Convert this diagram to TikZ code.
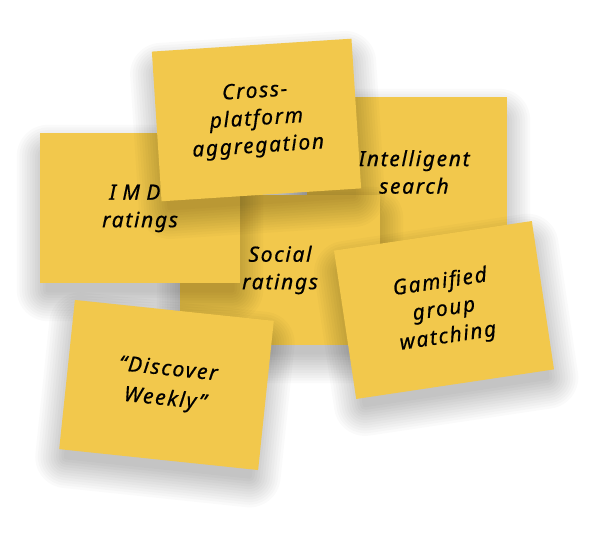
\documentclass[tikz,border=0pt]{standalone}
\usepackage{fontspec}
\setmainfont{Noto Sans}[LetterSpace=8, FakeBold=0.6]
\definecolor{notey}{RGB}{242,200,76}
\tikzset{
  stickynote/.style={fill=notey, minimum width=200pt, minimum height=150pt,
    inner sep=0pt, align=center, text=black,
    font=\fontsize{21}{27.5}\selectfont\itshape},
}
\newcommand\notesh[3]{%
  \begin{scope}[shift={(#1,#2)}, rotate=#3]
    \foreach \i [evaluate=\i as \r using \i*2.6] in {1,...,12}
      \fill[black, opacity=0.021, rounded corners=\r pt] (-92-\r,-82-\r) rectangle (92+\r,52+\r);
  \end{scope}}
\begin{document}
\begin{tikzpicture}[x=1pt,y=1pt]
\fill[white] (0,0) rectangle (596,537);
\useasboundingbox (0,0) rectangle (596,537);
\notesh{407}{365}{0}
\node[stickynote] (intel) at (407,365) {\hspace*{14pt}Intelligent\\\hspace*{14pt}search};
\notesh{280}{267}{0}
\node[stickynote] (social) at (280,267) {Social\\ratings};
\notesh{140}{329}{0}
\node[stickynote] (imdb) at (140,329) {\hspace*{8pt}{\addfontfeature{LetterSpace=30}IMDb}\\ratings};
\notesh{256.5}{417}{3.7}
\node[stickynote, rotate=3.7] (cross) at (256.5,417) {Cross-\\platform\\aggregation};
\notesh{444}{227}{8.5}
\node[stickynote, rotate=8.5] (gamified) at (444,227) {Gamified\\group\\watching};
\notesh{166.5}{152}{-6}
\node[stickynote, rotate=-6, font=\fontsize{21}{30}\selectfont\itshape] (discover) at (166.5,152) {“Discover\\Weekly”};
\end{tikzpicture}
\end{document}
